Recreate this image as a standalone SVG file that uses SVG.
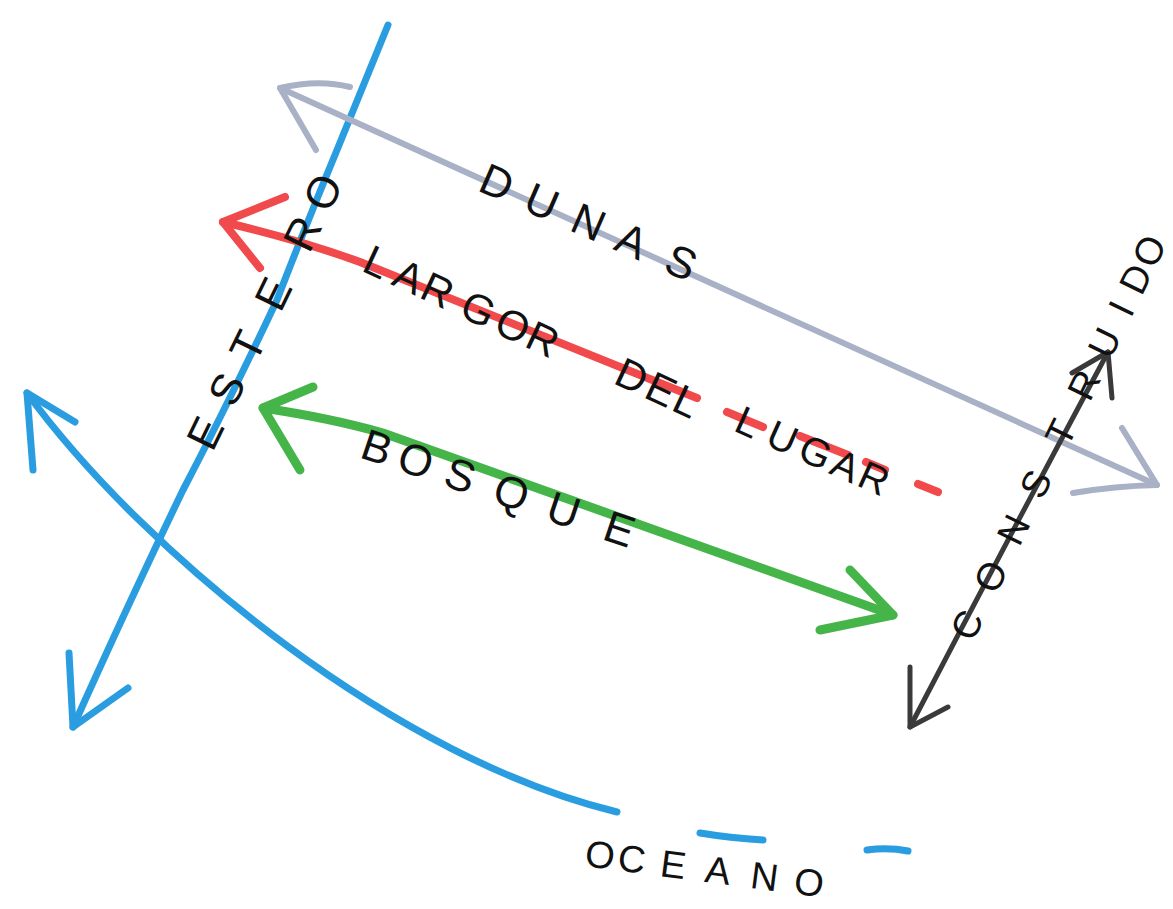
<svg xmlns="http://www.w3.org/2000/svg" width="1173" height="909" viewBox="0 0 1173 909">
  <style>
    .ln { fill: none; stroke-linecap: round; stroke-linejoin: round; }
    .blue { stroke: #2a9de0; stroke-width: 7; }
    .grey { stroke: #a9b1c7; stroke-width: 6; }
    .red { stroke: #f04a4c; stroke-width: 8; }
    .green { stroke: #45b54a; stroke-width: 9; }
    .black { stroke: #3a3a3a; stroke-width: 5; }
    .lbl { font-family: "Liberation Sans", Arial, sans-serif; fill: #111; text-anchor: middle; dominant-baseline: central; }
  </style>
  <rect width="1173" height="909" fill="#ffffff"/>

  <g id="connectors">
    <!-- ESTERO (blue, downward arrow) -->
    <g id="estero-line">
      <path class="ln blue" d="M388,25 L337,150 Q300,240 277,300 Q225,410 183,490 Q130,600 73,727"/>
      <path class="ln blue" d="M69,653 L73,727 L128,688"/>
    </g>
    <!-- OCEANO curve -->
    <g id="oceano-line">
      <path class="ln blue" d="M27,393 C150,560 400,760 617,812"/>
      <path class="ln blue" d="M33,470 L27,393 L75,422"/>
      <path class="ln blue" d="M700,833 Q730,838 763,840"/>
      <path class="ln blue" d="M867,850 Q888,847 908,851"/>
    </g>
    <!-- DUNAS (grey, double arrow) -->
    <g id="dunas-line">
      <path class="ln grey" d="M280,88 Q720,288 1157,485"/>
      <path class="ln grey" d="M350,87 Q318,79 280,88 L316,150"/>
      <path class="ln grey" d="M1122,428 L1157,485 Q1115,486 1073,493"/>
    </g>
    <!-- LARGOR DEL LUGAR (red) -->
    <g id="largor-line">
      <path class="ln red" d="M223,222 Q300,240 360,262 L697,398"/>
      <path class="ln red" d="M727,412 L763,427"/>
      <path class="ln red" d="M800,436 L848,455"/>
      <path class="ln red" d="M866,462 L885,470"/>
      <path class="ln red" d="M918,484 L938,492"/>
      <path class="ln red" d="M285,197 L223,222 L260,268"/>
    </g>
    <!-- BOSQUE (green, double arrow) -->
    <g id="bosque-line">
      <path class="ln green" d="M263,408 Q330,418 383,433 L893,615"/>
      <path class="ln green" d="M313,387 L263,408 L300,470"/>
      <path class="ln green" d="M850,570 L893,615 L820,630"/>
    </g>
    <!-- CONSTRUIDO (black, double arrow) -->
    <g id="construido-line">
      <path class="ln black" d="M1108,352 Q1010,535 910,727"/>
      <path class="ln black" d="M1072,373 L1108,352 L1112,398"/>
      <path class="ln black" d="M910,667 L910,727 L948,707"/>
    </g>
  </g>

  <g id="estero">
    <text class="lbl" font-size="44" transform="translate(205,433) rotate(-64)" x="0 49 97 155 222 268" y="0">ESTERO</text>
  </g>
  <g id="dunas">
    <text class="lbl" font-size="44" transform="translate(497,182) rotate(23.5)" x="0 49 100 147 201" y="0">DUNAS</text>
  </g>
  <g id="largor">
    <text class="lbl" font-size="42" transform="translate(377,262) rotate(25)" x="0 35 67 112 150 183" y="0">LARGOR</text>
    <text class="lbl" font-size="42" transform="translate(632,376) rotate(25)" x="0 32 60" y="0">DEL</text>
    <text class="lbl" font-size="40" transform="translate(748,422) rotate(24)" x="0 38 74 107 138" y="0">LUGAR</text>
  </g>
  <g id="bosque">
    <text class="lbl" font-size="44" transform="translate(377,447) rotate(18.6)" x="0 41 88 142 197 256" y="0">BOSQUE</text>
  </g>
  <g id="construido">
    <text class="lbl" font-size="38" transform="translate(967,625) rotate(-64)" x="0 54 106 157 214 267 314 352 385 416" y="0">CONSTRUIDO</text>
  </g>
  <g id="oceano">
    <text class="lbl" font-size="38" transform="translate(600,855) rotate(7.5)" x="0 32 74 119 166 211" y="0">OCEANO</text>
  </g>
</svg>
